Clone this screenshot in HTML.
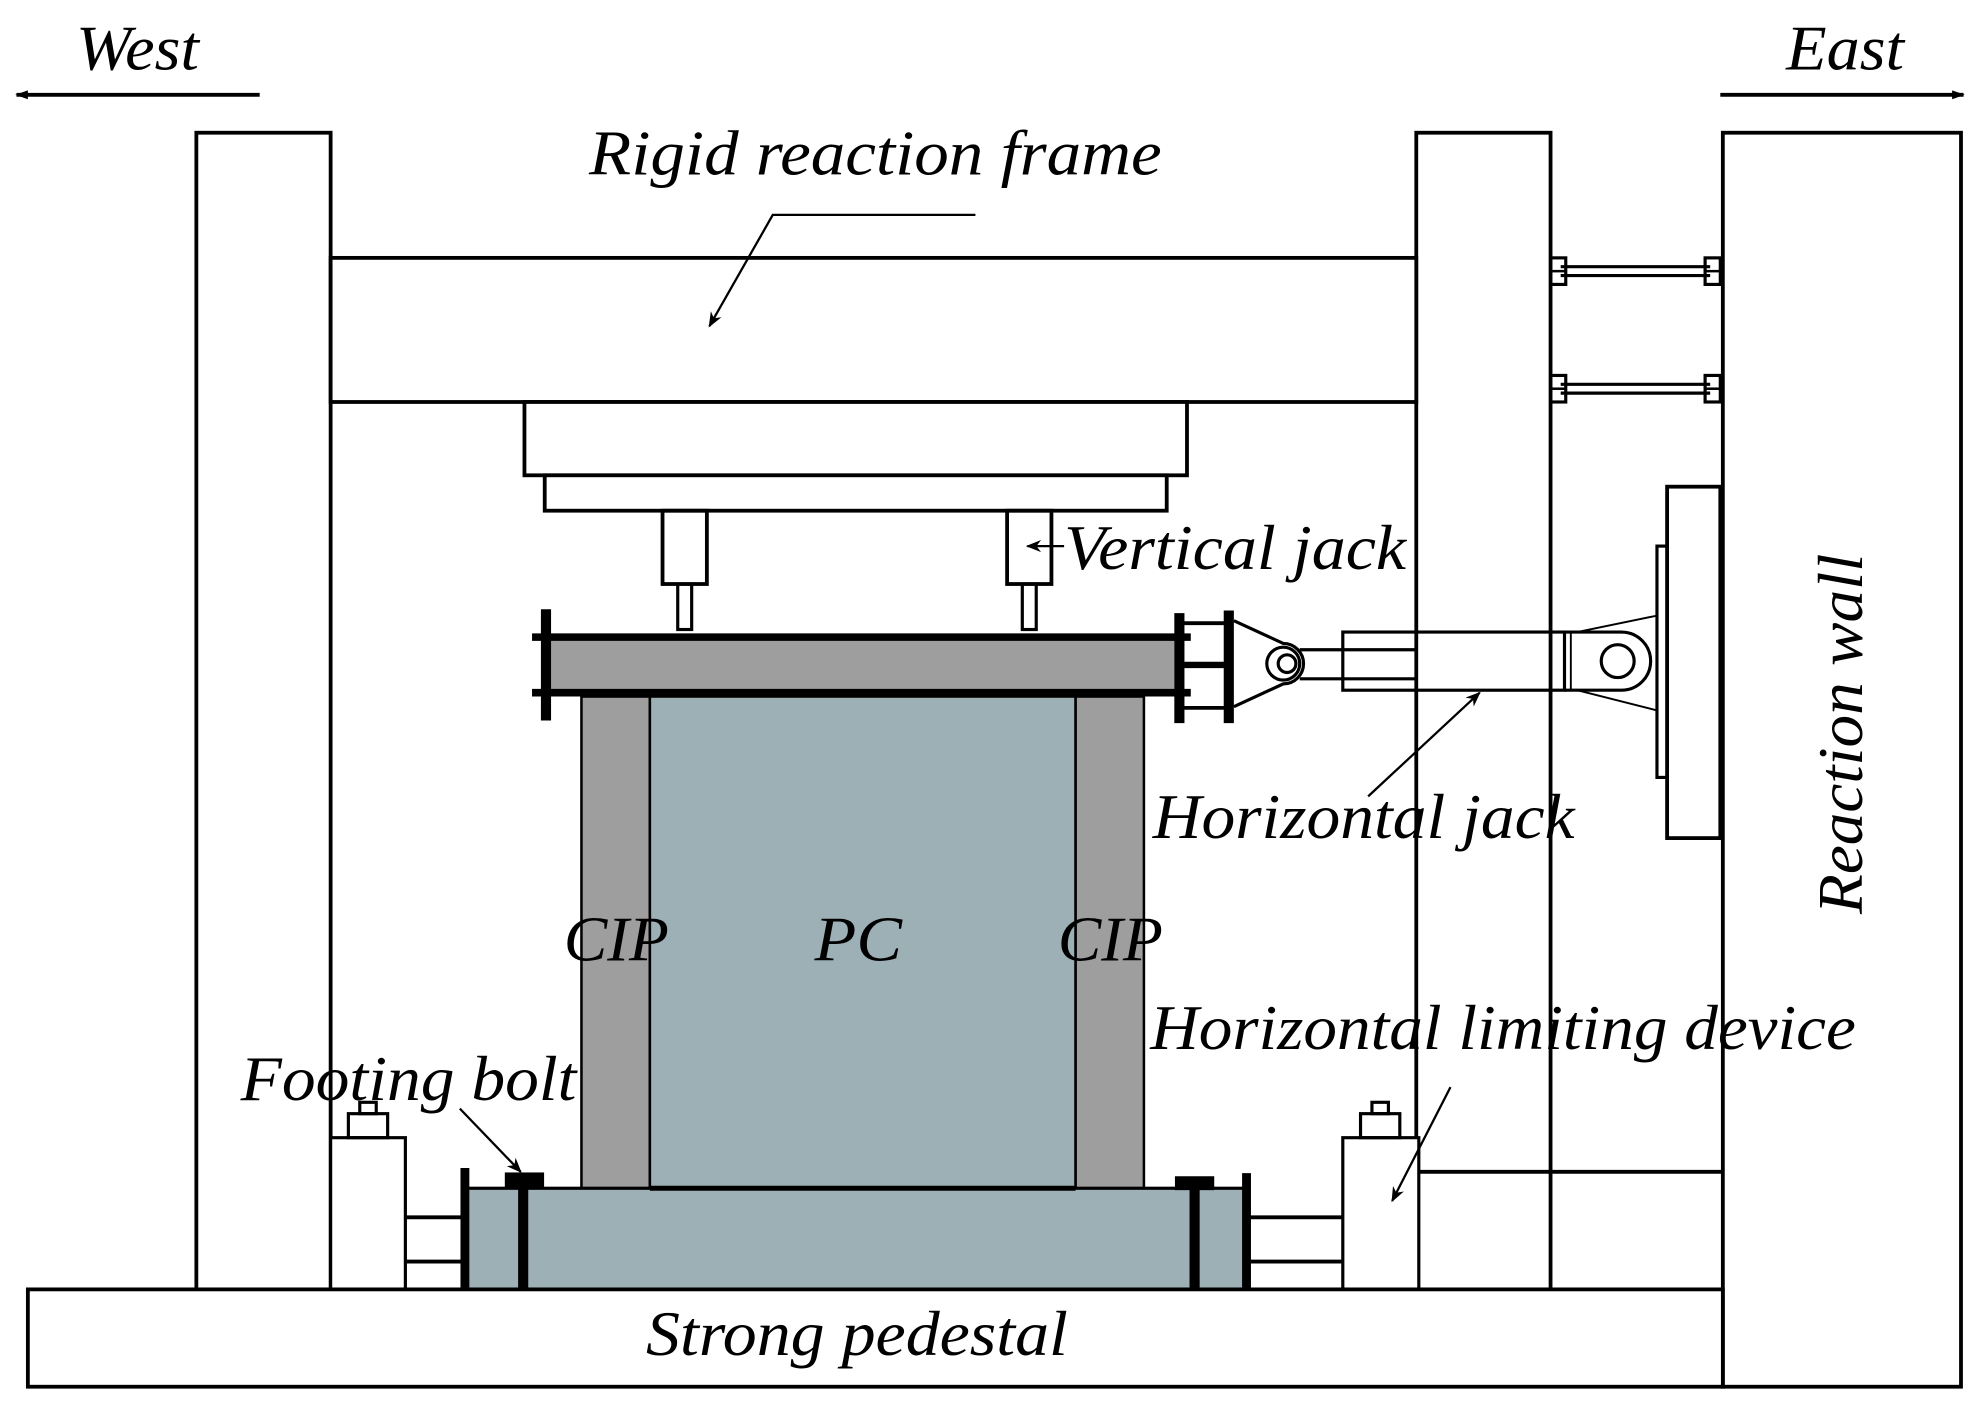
<!DOCTYPE html>
<html><head><meta charset="utf-8"><style>
html,body{margin:0;padding:0;background:#fff;}
svg{display:block;}
text{font-family:"Liberation Serif",serif;font-style:italic;fill:#000;}
</style></head><body>
<svg width="1980" height="1412" viewBox="0 0 1563 1117" preserveAspectRatio="none" xmlns="http://www.w3.org/2000/svg">
<defs>
<marker id="ah" viewBox="0 0 10 10" refX="9" refY="5" markerWidth="18" markerHeight="12" markerUnits="userSpaceOnUse" orient="auto"><path d="M0,1 L10,5 L0,9 L3,5 Z" fill="#000"/></marker>
<marker id="ah2" viewBox="0 0 10 10" refX="9" refY="5" markerWidth="24" markerHeight="10" markerUnits="userSpaceOnUse" orient="auto"><path d="M0,1.5 L10,5 L0,8.5 Z" fill="#000"/></marker>
</defs>
<g fill="none" stroke="#000" stroke-width="3">
<line x1="205" y1="75" x2="13" y2="75" marker-end="url(#ah2)"/>
<line x1="1358" y1="75" x2="1550" y2="75" marker-end="url(#ah2)"/>
<rect x="155" y="105" width="106" height="915" fill="#fff"/>
<rect x="1118" y="105" width="106" height="915" fill="#fff"/>
<rect x="1360" y="105" width="188" height="992" fill="#fff"/>
<rect x="261" y="204" width="857" height="114" fill="#fff"/>
<rect x="414" y="318" width="523" height="58" fill="#fff"/>
<rect x="430" y="376" width="491" height="28" fill="#fff"/>
<rect x="523" y="404" width="35" height="58"/>
<rect x="535" y="462" width="11" height="36" stroke-width="2.5"/>
<rect x="795" y="404" width="35" height="58"/>
<rect x="807" y="462" width="11" height="36" stroke-width="2.5"/>
<line x1="1232" y1="211" x2="1350" y2="211" stroke-width="2.5"/><line x1="1232" y1="218" x2="1350" y2="218" stroke-width="2.5"/>
<line x1="1232" y1="304" x2="1350" y2="304" stroke-width="2.5"/><line x1="1232" y1="311" x2="1350" y2="311" stroke-width="2.5"/>
<rect x="1224" y="204" width="12" height="21" stroke-width="2.5"/><rect x="1346" y="204" width="12" height="21" stroke-width="2.5"/>
<rect x="1224" y="297" width="12" height="21" stroke-width="2.5"/><rect x="1346" y="297" width="12" height="21" stroke-width="2.5"/>
<line x1="1224" y1="214.5" x2="1236" y2="214.5" stroke-width="2"/><line x1="1346" y1="214.5" x2="1358" y2="214.5" stroke-width="2"/>
<line x1="1224" y1="307.5" x2="1236" y2="307.5" stroke-width="2"/><line x1="1346" y1="307.5" x2="1358" y2="307.5" stroke-width="2"/>
<rect x="432" y="502" width="495" height="47" fill="#9e9e9e" stroke="none"/>
<line x1="420" y1="504" x2="940" y2="504" stroke-width="6"/>
<line x1="420" y1="548" x2="940" y2="548" stroke-width="6"/>
<line x1="431" y1="482" x2="431" y2="570" stroke-width="8"/>
<line x1="931" y1="485" x2="931" y2="572" stroke-width="8"/>
<line x1="970" y1="483" x2="970" y2="572" stroke-width="8"/>
<line x1="931" y1="493" x2="970" y2="493"/>
<line x1="931" y1="526" x2="970" y2="526" stroke-width="5"/>
<line x1="931" y1="560" x2="970" y2="560"/>
<path d="M974,491 L1013,509 A16,16 0 0 1 1013,541 L974,559" stroke-width="2.5"/>
<circle cx="1013" cy="525" r="13" stroke-width="2.5"/>
<circle cx="1016" cy="525" r="7" stroke-width="2.5"/>
<line x1="1026" y1="514" x2="1118" y2="514" stroke-width="2.5"/>
<line x1="1026" y1="537" x2="1118" y2="537" stroke-width="2.5"/>
<rect x="1060" y="500" width="175" height="46" stroke-width="2.5"/>
<path d="M1235,500 L1280,500 A23,23 0 0 1 1280,546 L1235,546" stroke-width="2.5"/>
<line x1="1240" y1="500" x2="1240" y2="546" stroke-width="1.5"/>
<circle cx="1277" cy="523" r="13" stroke-width="2.5"/>
<line x1="1245" y1="500" x2="1308" y2="487" stroke-width="1.5"/>
<line x1="1245" y1="546" x2="1308" y2="562" stroke-width="1.5"/>
<rect x="1308" y="432" width="8" height="183" stroke-width="2.5"/>
<rect x="1316" y="385" width="42" height="278" fill="#fff"/>
<rect x="459" y="551" width="54" height="389" fill="#9e9e9e" stroke-width="2"/>
<rect x="849" y="551" width="54" height="389" fill="#9e9e9e" stroke-width="2"/>
<rect x="513" y="551" width="336" height="389" fill="#9db0b5" stroke-width="2"/>
<rect x="368" y="940" width="614" height="80" fill="#9db0b5" stroke-width="2.5"/>
<line x1="513" y1="940" x2="849" y2="940" stroke-width="4"/>
<line x1="367" y1="924" x2="367" y2="1020" stroke-width="7"/>
<line x1="984" y1="928" x2="984" y2="1020" stroke-width="7"/>
<line x1="413" y1="930" x2="413" y2="1020" stroke-width="8"/>
<line x1="943" y1="934" x2="943" y2="1020" stroke-width="8"/>
<rect x="399" y="928" width="30" height="12" fill="#000" stroke-width="1"/>
<rect x="928" y="931" width="30" height="10" fill="#000" stroke-width="1"/>
<rect x="261" y="900" width="59" height="120" fill="#fff" stroke-width="2.5"/>
<rect x="275" y="881" width="31" height="19" stroke-width="2.5"/>
<rect x="284" y="872" width="13" height="9" stroke-width="2.5"/>
<line x1="320" y1="963" x2="365" y2="963"/><line x1="320" y1="998" x2="365" y2="998"/>
<rect x="1060" y="900" width="60" height="120" fill="#fff" stroke-width="2.5"/>
<rect x="1074" y="881" width="31" height="19" stroke-width="2.5"/>
<rect x="1083" y="872" width="13" height="9" stroke-width="2.5"/>
<line x1="987" y1="963" x2="1060" y2="963"/><line x1="987" y1="998" x2="1060" y2="998"/>
<polyline points="1120,927 1360,927" />
<rect x="22" y="1020" width="1338" height="77" fill="#fff"/>
<polyline points="770,170 610,170 560,258" stroke-width="1.8" marker-end="url(#ah)"/>
<line x1="840" y1="432" x2="811" y2="432" stroke-width="1.8" marker-end="url(#ah)"/>
<line x1="1080" y1="630" x2="1168" y2="548" stroke-width="1.8" marker-end="url(#ah)"/>
<line x1="363" y1="877" x2="411" y2="927" stroke-width="1.8" marker-end="url(#ah)"/>
<line x1="1145" y1="860" x2="1099" y2="950" stroke-width="1.8" marker-end="url(#ah)"/>
</g>
<g font-size="50">
<text x="60" y="55" textLength="97" lengthAdjust="spacingAndGlyphs">West</text>
<text x="1410" y="55" textLength="93" lengthAdjust="spacingAndGlyphs">East</text>
<text x="465" y="138" textLength="452" lengthAdjust="spacingAndGlyphs">Rigid reaction frame</text>
<text x="840" y="450" textLength="270" lengthAdjust="spacingAndGlyphs">Vertical jack</text>
<text x="910" y="663" textLength="333" lengthAdjust="spacingAndGlyphs">Horizontal jack</text>
<text x="445" y="760" textLength="83" lengthAdjust="spacingAndGlyphs">CIP</text>
<text x="643" y="760" textLength="69" lengthAdjust="spacingAndGlyphs">PC</text>
<text x="835" y="760" textLength="83" lengthAdjust="spacingAndGlyphs">CIP</text>
<text x="908" y="830" textLength="557" lengthAdjust="spacingAndGlyphs">Horizontal limiting device</text>
<text x="190" y="870" textLength="265" lengthAdjust="spacingAndGlyphs">Footing bolt</text>
<text x="510" y="1072" textLength="333" lengthAdjust="spacingAndGlyphs">Strong pedestal</text>
<text transform="translate(1470,723) rotate(-90)" x="0" y="0" textLength="285" lengthAdjust="spacingAndGlyphs">Reaction wall</text>
</g>
</svg>
</body></html>
